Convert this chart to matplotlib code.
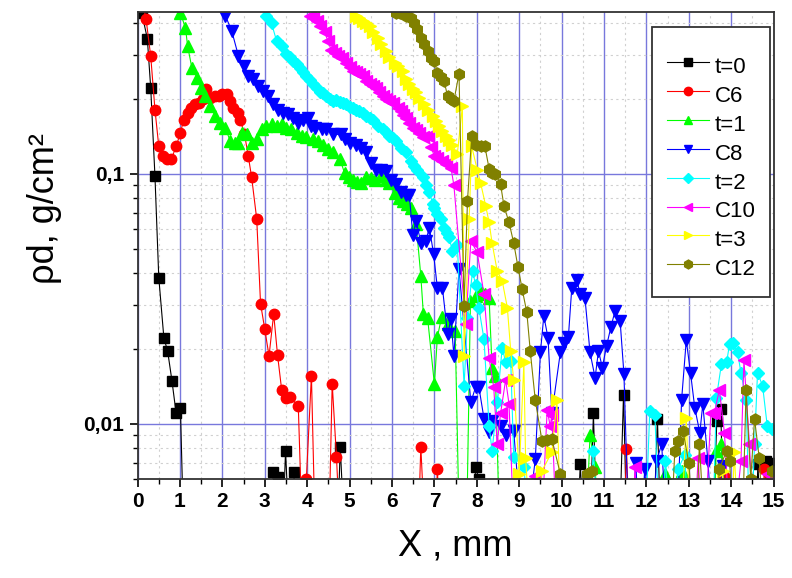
import matplotlib
matplotlib.use('Agg')
import matplotlib.pyplot as plt
from matplotlib.ticker import MultipleLocator, LogLocator, FuncFormatter, NullFormatter

plt.rcParams['font.family'] = ['Liberation Sans', 'DejaVu Sans']

# values; 0.003 = below the visible range (line drops off the axis)
x_t0 = [0.1, 0.23, 0.31, 0.41, 0.5, 0.62, 0.71, 0.81, 0.91, 1.01,
        1.1, 3.1, 3.2, 3.3, 3.4, 3.49, 3.6, 3.69, 3.8, 4.7,
        4.78, 4.9, 7.9, 7.97, 8.05, 8.15, 10.35, 10.44, 10.55, 10.65,
        10.75, 10.85, 11.35, 11.46, 11.55, 12.15, 12.26, 12.35, 13.55, 13.66,
        13.75, 13.85, 14.55, 14.63, 14.72, 14.82, 14.95]
y_t0 = [0.44, 0.348, 0.221, 0.098, 0.0385, 0.0221, 0.0195, 0.0149, 0.0110, 0.0116,
        0.003, 0.003, 0.0064, 0.0061, 0.003, 0.0078, 0.003, 0.0064, 0.003, 0.003,
        0.0081, 0.003, 0.003, 0.0067, 0.0060, 0.003, 0.003, 0.0069, 0.003, 0.003,
        0.0110, 0.003, 0.003, 0.0131, 0.003, 0.003, 0.0105, 0.003, 0.003, 0.0103,
        0.0115, 0.003, 0.003, 0.0069, 0.003, 0.0071, 0.0070]

x_c6 = [0.1, 0.2, 0.31, 0.41, 0.5, 0.59, 0.7, 0.8, 0.91, 1.01,
        1.09, 1.18, 1.27, 1.36, 1.46, 1.55, 1.62, 1.71, 1.83, 1.92,
        2.0, 2.1, 2.18, 2.26, 2.36, 2.42, 2.52, 2.61, 2.69, 2.81,
        2.9, 3.0, 3.1, 3.21, 3.3, 3.4, 3.51, 3.59, 3.79, 3.9,
        3.98, 4.1, 4.2, 4.5, 4.59, 4.69, 4.8, 6.6, 6.68, 6.8,
        7.0, 7.07, 7.15, 11.45, 11.53, 11.62, 13.75, 13.83, 13.92, 14.7,
        14.78, 14.9]
y_c6 = [0.5, 0.417, 0.296, 0.181, 0.129, 0.118, 0.115, 0.115, 0.129, 0.146,
        0.165, 0.176, 0.184, 0.190, 0.193, 0.200, 0.219, 0.202, 0.205, 0.206,
        0.208, 0.208, 0.196, 0.184, 0.176, 0.165, 0.145, 0.118, 0.097, 0.066,
        0.0303, 0.0239, 0.0187, 0.0275, 0.0189, 0.0136, 0.0127, 0.0128, 0.0118, 0.003,
        0.0060, 0.0156, 0.003, 0.003, 0.0145, 0.0074, 0.003, 0.003, 0.0081, 0.003,
        0.003, 0.0066, 0.003, 0.003, 0.0079, 0.003, 0.003, 0.0062, 0.003, 0.003,
        0.0066, 0.0063]

x_t1 = [0.95, 1.01, 1.13, 1.18, 1.28, 1.4, 1.5, 1.6, 1.71, 1.83,
        1.95, 2.07, 2.18, 2.3, 2.38, 2.47, 2.58, 2.69, 2.81, 2.93,
        3.04, 3.16, 3.28, 3.4, 3.51, 3.63, 3.75, 3.87, 3.98, 4.14,
        4.25, 4.37, 4.5, 4.61, 4.77, 4.88, 4.98, 5.08, 5.17, 5.27,
        5.39, 5.5, 5.59, 5.74, 5.85, 5.94, 6.06, 6.16, 6.25, 6.35,
        6.45, 6.57, 6.68, 6.74, 6.84, 7.0, 7.07, 7.17, 7.31, 7.49,
        7.6, 7.75, 7.85, 7.97, 8.1, 8.2, 8.29, 8.36, 8.44, 8.55,
        10.55, 10.67, 10.79, 10.9, 12.3, 12.43, 12.55, 12.7, 12.83, 12.95,
        13.55, 13.65, 13.77, 13.9]
y_t1 = [0.5, 0.44, 0.384, 0.325, 0.266, 0.243, 0.221, 0.205, 0.187, 0.171,
        0.160, 0.153, 0.136, 0.133, 0.133, 0.146, 0.144, 0.133, 0.138, 0.151,
        0.156, 0.158, 0.156, 0.158, 0.153, 0.151, 0.146, 0.142, 0.140, 0.138,
        0.135, 0.131, 0.126, 0.122, 0.115, 0.101, 0.097, 0.095, 0.093, 0.092,
        0.097, 0.096, 0.095, 0.098, 0.095, 0.092, 0.084, 0.080, 0.078, 0.076,
        0.073, 0.063, 0.039, 0.0275, 0.0265, 0.0144, 0.0222, 0.0268, 0.025, 0.0235,
        0.003, 0.003, 0.031, 0.0325, 0.034, 0.033, 0.032, 0.0168, 0.0156, 0.003,
        0.003, 0.0090, 0.0067, 0.003, 0.003, 0.0063, 0.003, 0.003, 0.0065, 0.003,
        0.003, 0.0078, 0.0083, 0.003]

x_c8 = [2.0, 2.07, 2.22, 2.38, 2.5, 2.61, 2.73, 2.85, 2.96, 3.08,
        3.2, 3.32, 3.43, 3.55, 3.67, 3.79, 3.9, 4.02, 4.1, 4.18,
        4.34, 4.45, 4.61, 4.8, 4.9, 5.0, 5.16, 5.27, 5.39, 5.51,
        5.63, 5.74, 5.86, 5.98, 6.09, 6.21, 6.33, 6.41, 6.49, 6.57,
        6.68, 6.8, 6.88, 6.98, 7.07, 7.19, 7.31, 7.39, 7.46, 7.58,
        7.86, 7.97, 8.05, 8.17, 8.29, 8.36, 8.56, 8.7, 8.87, 9.1,
        9.38, 9.5, 9.58, 9.68, 9.77, 9.97, 10.05, 10.16, 10.24, 10.36,
        10.44, 10.55, 10.67, 10.79, 10.87, 10.96, 11.06, 11.16, 11.26, 11.38,
        11.47, 11.6, 11.75, 11.85, 11.96, 12.1, 12.24, 12.36, 12.5, 12.7,
        12.83, 12.94, 13.04, 13.14, 13.26, 13.33, 13.45, 13.6, 13.8, 14.0]
y_c8 = [0.5, 0.43, 0.374, 0.296, 0.270, 0.246, 0.239, 0.225, 0.215, 0.205,
        0.190, 0.181, 0.176, 0.173, 0.168, 0.160, 0.165, 0.168, 0.156, 0.153,
        0.151, 0.151, 0.144, 0.144, 0.138, 0.133, 0.131, 0.127, 0.122, 0.111,
        0.104, 0.104, 0.103, 0.095, 0.091, 0.085, 0.082, 0.082, 0.057, 0.065,
        0.053, 0.054, 0.061, 0.048, 0.035, 0.035, 0.0228, 0.0262, 0.0187, 0.0415,
        0.0122, 0.014, 0.014, 0.0105, 0.0093, 0.0103, 0.0098, 0.0090, 0.0094, 0.003,
        0.0072, 0.0193, 0.027, 0.0221, 0.011, 0.0193, 0.0211, 0.0223, 0.035, 0.0375,
        0.033, 0.032, 0.0193, 0.0153, 0.0196, 0.0168, 0.0205, 0.0243, 0.0283, 0.0258,
        0.0158, 0.003, 0.0070, 0.003, 0.0066, 0.003, 0.0071, 0.0083, 0.003, 0.003,
        0.0125, 0.0216, 0.016, 0.0116, 0.0092, 0.0120, 0.0071, 0.003, 0.0068, 0.003]

x_t2 = [2.95, 3.04, 3.16, 3.28, 3.4, 3.51, 3.59, 3.67, 3.75, 3.83,
        3.91, 3.98, 4.06, 4.14, 4.22, 4.3, 4.38, 4.45, 4.53, 4.61,
        4.69, 4.77, 4.85, 4.92, 5.0, 5.08, 5.16, 5.23, 5.31, 5.39,
        5.47, 5.55, 5.66, 5.78, 5.86, 5.94, 6.02, 6.09, 6.21, 6.33,
        6.45, 6.53, 6.6, 6.72, 6.8, 6.88, 6.96, 7.0, 7.07, 7.15,
        7.23, 7.3, 7.35, 7.42, 7.54, 7.7, 7.78, 7.9, 7.97, 8.05,
        8.17, 8.29, 8.36, 8.48, 8.6, 8.68, 8.8, 8.87, 9.11, 9.3,
        10.6, 10.75, 10.9, 11.95, 12.08, 12.2, 12.33, 12.45, 12.6, 12.75,
        12.9, 13.05, 13.2, 13.55, 13.65, 13.77, 13.89, 13.96, 14.04, 14.15,
        14.23, 14.35, 14.45, 14.55, 14.62, 14.74, 14.85, 14.95]
y_t2 = [0.5, 0.43, 0.40, 0.34, 0.325, 0.301, 0.295, 0.283, 0.275, 0.266,
        0.256, 0.246, 0.238, 0.228, 0.220, 0.212, 0.210, 0.205, 0.200, 0.196,
        0.198, 0.194, 0.192, 0.190, 0.186, 0.184, 0.181, 0.179, 0.175, 0.171,
        0.168, 0.165, 0.156, 0.151, 0.147, 0.142, 0.139, 0.136, 0.127, 0.122,
        0.113, 0.108, 0.104, 0.097, 0.090, 0.085, 0.076, 0.073, 0.069, 0.066,
        0.061, 0.058, 0.056, 0.049, 0.052, 0.0142, 0.0266, 0.041, 0.036, 0.029,
        0.0218, 0.0098, 0.0078, 0.0122, 0.0202, 0.0176, 0.0179, 0.0074, 0.0067, 0.003,
        0.003, 0.0078, 0.003, 0.003, 0.0113, 0.0108, 0.003, 0.0071, 0.003, 0.0066,
        0.0075, 0.003, 0.003, 0.003, 0.0127, 0.0174, 0.0176, 0.0208, 0.0211, 0.0193,
        0.016, 0.0125, 0.003, 0.0083, 0.016, 0.0142, 0.0098, 0.0095]

x_c10 = [3.98, 4.06, 4.14, 4.22, 4.3, 4.41, 4.49, 4.57, 4.65, 4.73,
         4.82, 4.92, 5.0, 5.08, 5.16, 5.23, 5.31, 5.39, 5.47, 5.55,
         5.63, 5.7, 5.78, 5.86, 5.94, 6.02, 6.13, 6.21, 6.27, 6.33,
         6.41, 6.49, 6.57, 6.64, 6.72, 6.84, 6.92, 7.0, 7.07, 7.19,
         7.27, 7.39, 7.46, 7.74, 7.86, 8.01, 8.17, 8.29, 8.4, 8.48,
         8.56, 8.68, 8.76, 8.9, 9.38, 9.5, 9.66, 9.73, 9.77, 9.9,
         11.65, 11.73, 11.85, 13.1, 13.22, 13.35, 13.52, 13.6, 13.72, 13.84,
         14.0, 14.23, 14.3, 14.43, 14.55, 14.86]
y_c10 = [0.5, 0.43, 0.42, 0.41, 0.39, 0.37, 0.34, 0.312, 0.305, 0.296,
         0.29, 0.279, 0.268, 0.258, 0.255, 0.250, 0.246, 0.236, 0.228, 0.225,
         0.221, 0.212, 0.205, 0.200, 0.196, 0.192, 0.184, 0.178, 0.172, 0.168,
         0.160, 0.153, 0.150, 0.146, 0.140, 0.142, 0.128, 0.118, 0.116, 0.113,
         0.110, 0.106, 0.090, 0.025, 0.054, 0.0485, 0.033, 0.0184, 0.014, 0.0083,
         0.011, 0.015, 0.012, 0.003, 0.0062, 0.003, 0.0114, 0.0098, 0.0108, 0.003,
         0.003, 0.0067, 0.003, 0.003, 0.0073, 0.003, 0.011, 0.011, 0.0137, 0.0092,
         0.003, 0.0071, 0.018, 0.0083, 0.003, 0.0063]

x_t3 = [5.08, 5.16, 5.23, 5.31, 5.39, 5.47, 5.55, 5.66, 5.74, 5.86,
        5.94, 6.06, 6.13, 6.25, 6.33, 6.41, 6.49, 6.57, 6.64, 6.76,
        6.84, 6.96, 7.03, 7.11, 7.19, 7.27, 7.35, 7.42, 7.54, 7.66,
        7.7, 7.82, 7.88, 8.01, 8.09, 8.21, 8.29, 8.36, 8.48, 8.6,
        8.72, 8.8, 8.87, 9.0, 9.11, 9.15, 9.3, 9.54, 9.77, 9.89,
        10.0, 12.8, 12.94, 13.05, 13.7, 13.8, 13.9, 14.0, 14.07, 14.2]
y_t3 = [0.5, 0.43, 0.42, 0.41, 0.40, 0.39, 0.37, 0.35, 0.33, 0.31,
        0.295, 0.279, 0.27, 0.258, 0.24, 0.228, 0.218, 0.212, 0.202, 0.190,
        0.18, 0.171, 0.163, 0.156, 0.149, 0.142, 0.137, 0.131, 0.120, 0.187,
        0.0187, 0.066, 0.129, 0.104, 0.092, 0.0745, 0.064, 0.053, 0.041, 0.0373,
        0.0292, 0.0196, 0.015, 0.0063, 0.0176, 0.0073, 0.003, 0.0065, 0.0077, 0.0124,
        0.003, 0.003, 0.0106, 0.003, 0.003, 0.0065, 0.003, 0.003, 0.0077, 0.003]

x_c12 = [6.0, 6.09, 6.2, 6.33, 6.45, 6.53, 6.6, 6.68, 6.76, 6.84,
         6.92, 7.0, 7.07, 7.15, 7.23, 7.31, 7.39, 7.46, 7.58, 7.7,
         7.78, 7.88, 7.97, 8.09, 8.19, 8.29, 8.37, 8.44, 8.56, 8.64,
         8.76, 8.87, 8.97, 9.07, 9.18, 9.26, 9.38, 9.54, 9.66, 9.77,
         9.97, 10.1, 10.5, 10.59, 10.71, 10.85, 12.55, 12.67, 12.75, 12.86,
         13.0, 13.15, 13.25, 13.4, 13.6, 13.72, 13.89, 13.96, 14.1, 14.25,
         14.35, 14.46, 14.55, 14.66, 14.8, 14.95]
y_c12 = [0.5, 0.44, 0.44, 0.43, 0.42, 0.40, 0.38, 0.35, 0.33, 0.31,
         0.292, 0.283, 0.254, 0.245, 0.235, 0.205, 0.200, 0.196, 0.252, 0.0296,
         0.078, 0.142, 0.131, 0.129, 0.129, 0.105, 0.101, 0.100, 0.091, 0.0745,
         0.064, 0.053, 0.0425, 0.0346, 0.0279, 0.0196, 0.0124, 0.0085, 0.0086, 0.0087,
         0.0063, 0.003, 0.003, 0.0063, 0.0065, 0.003, 0.003, 0.0078, 0.0085, 0.0094,
         0.0070, 0.003, 0.0083, 0.003, 0.003, 0.0066, 0.0078, 0.0071, 0.003, 0.003,
         0.0137, 0.006, 0.0105, 0.0073, 0.003, 0.0065]

series = [
    ('t=0', x_t0, y_t0, 'black', 's', 6.5),
    ('C6', x_c6, y_c6, '#ff0000', 'o', 7.5),
    ('t=1', x_t1, y_t1, '#00ff00', '^', 8),
    ('C8', x_c8, y_c8, '#0000ff', 'v', 8),
    ('t=2', x_t2, y_t2, '#00ffff', 'D', 6.5),
    ('C10', x_c10, y_c10, '#ff00ff', '<', 8),
    ('t=3', x_t3, y_t3, '#ffff00', '>', 8),
    ('C12', x_c12, y_c12, '#808000', 'h', 8),
]

fig = plt.figure(figsize=(7.92, 5.78), dpi=100)
ax = fig.add_axes([0.1737, 0.1708, 0.8031, 0.809])

for lab, xs, ys, col, mk, ms in series:
    ax.plot(xs, ys, color=col, lw=0.8, marker=mk, ms=ms, mfc=col, mec=col,
            label=lab)

ax.set_yscale('log')
ax.set_xlim(0, 15)
ax.set_ylim(0.006, 0.446)

ax.xaxis.set_major_locator(MultipleLocator(1))
ax.xaxis.set_minor_locator(MultipleLocator(0.5))
ax.yaxis.set_major_locator(LogLocator(base=10))
ax.yaxis.set_minor_locator(LogLocator(base=10, subs=range(2, 10)))
ax.yaxis.set_major_formatter(FuncFormatter(lambda v, p: f'{v:g}'.replace('.', ',')))
ax.yaxis.set_minor_formatter(NullFormatter())

ax.set_axisbelow(True)
ax.grid(which='major', color='#7878dc', lw=1.0)
ax.grid(which='minor', color='#d0d0d0', lw=0.8, ls=(0, (2, 3)))

ax.tick_params(which='major', direction='out', length=6, width=1.2, labelsize=15)
ax.tick_params(which='minor', direction='out', length=3.5, width=1.0)
for t in ax.get_xticklabels() + ax.get_yticklabels():
    t.set_fontweight('bold')
for s in ax.spines.values():
    s.set_linewidth(1.3)
    s.set_color('#333333')

ax.set_xlabel('X , mm', fontsize=26, labelpad=12)
ax.set_ylabel('ρd, g/cm²', fontsize=26)
ax.yaxis.set_label_coords(-0.119, 0.58)

leg = ax.legend(loc='upper right', bbox_to_anchor=(770 / 792, 1 - 27 / 578),
                bbox_transform=fig.transFigure, borderaxespad=0,
                fontsize=16, handlelength=1.9, handletextpad=0.25,
                handleheight=1.62, labelspacing=0.0, borderpad=0.65,
                fancybox=False, framealpha=1, edgecolor='#333333',
                markerscale=0.8, title=' ', title_fontsize=8)
leg.get_frame().set_linewidth(1.3)

fig.savefig('out.png', dpi=100)
